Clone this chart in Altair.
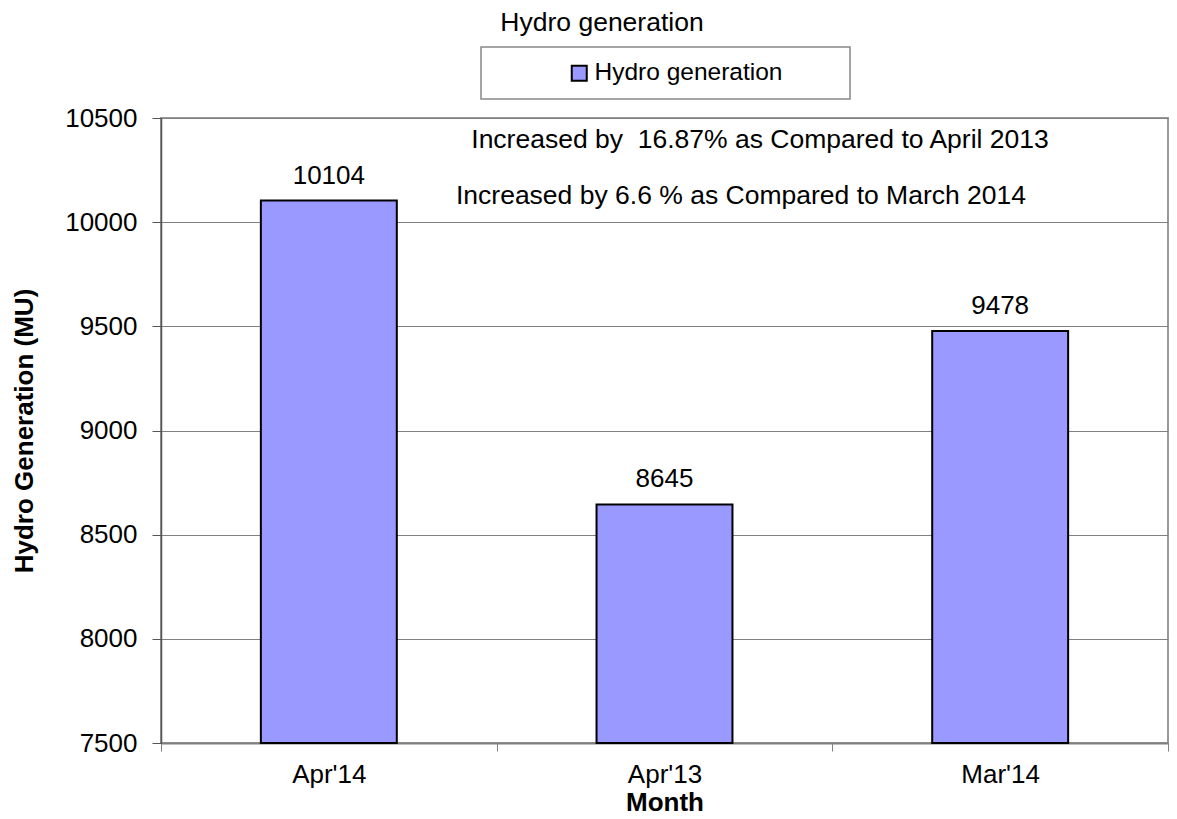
import altair as alt
import pandas as pd

months = ["Apr'14", "Apr'13", "Mar'14"]
values = [10104, 8645, 9478]
series_name = "Hydro generation"
chart_title = "Hydro generation"
note_1 = "Increased by \u00a016.87% as Compared to April 2013"
note_2 = "Increased by 6.6 % as Compared to March 2014"
y_ticks = [7500, 8000, 8500, 9000, 9500, 10000, 10500]
y_min, y_max = 7500, 10500

FONT = "Liberation Sans"
FS = 26
FS_NOTE = 26.5

df = pd.DataFrame({"month": months, "value": values, "series": [series_name] * len(months)})
one = pd.DataFrame({"k": [0]})

x_enc = alt.X(
    "month:N",
    sort=months,
    scale=alt.Scale(paddingInner=0, paddingOuter=0),
    axis=alt.Axis(
        title="Month", labelAngle=0, tickBand="extent", tickSize=8,
        tickColor="#808080", domainColor="#808080", domainWidth=2,
        labelFontSize=FS, labelFont=FONT, labelColor="black", labelPadding=10,
        titleFontSize=FS, titleFont=FONT, titleFontWeight="bold", titleColor="black",
        titlePadding=2,
    ),
)
y_enc = alt.Y(
    "value:Q",
    scale=alt.Scale(domain=[y_min, y_max], nice=False, zero=False),
    axis=alt.Axis(
        title="Hydro Generation (MU)", values=y_ticks, format="d", tickSize=9,
        tickColor="#555555", domainColor="#555555", domainWidth=1.5,
        gridColor="#808080", gridWidth=1,
        labelFontSize=FS, labelFont=FONT, labelColor="black", labelPadding=15,
        titleFontSize=FS, titleFont=FONT, titleFontWeight="bold", titleColor="black",
        titlePadding=27,
    ),
)

base = alt.Chart(df)

bars = base.mark_bar(stroke="black", strokeWidth=2, width={"band": 0.405}).encode(
    x=x_enc,
    y=y_enc,
    y2=alt.datum(y_min),
    color=alt.Color(
        "series:N",
        scale=alt.Scale(domain=[series_name], range=["#9999FF"]),
        legend=alt.Legend(
            title=None, orient="none", legendX=406, legendY=-57, padding=0,
            symbolType="square", symbolSize=225, symbolStrokeColor="black",
            symbolStrokeWidth=2, labelFontSize=24.5, labelFont=FONT, labelColor="black",
            labelOffset=3, labelLimit=400,
        ),
    ),
)

labels = base.mark_text(dy=-17, baseline="alphabetic", fontSize=FS, font=FONT, color="black").encode(
    x=alt.X("month:N", sort=months),
    y="value:Q",
    text=alt.Text("value:Q", format="d"),
)

legend_box = alt.Chart(one).mark_rect(fill="white", stroke="#888888", strokeWidth=1.5).encode(
    x=alt.value(320), x2=alt.value(689), y=alt.value(-71), y2=alt.value(-19)
)

title_txt = alt.Chart(one).mark_text(align="center", baseline="alphabetic", fontSize=FS_NOTE, font=FONT, color="black").encode(
    x=alt.value(441), y=alt.value(-87), text=alt.value(chart_title)
)

note1 = alt.Chart(one).mark_text(align="center", baseline="alphabetic", fontSize=FS_NOTE, font=FONT, color="black").encode(
    x=alt.value(599), y=alt.value(30), text=alt.value(note_1)
)
note2 = alt.Chart(one).mark_text(align="center", baseline="alphabetic", fontSize=FS_NOTE, font=FONT, color="black").encode(
    x=alt.value(580), y=alt.value(86), text=alt.value(note_2)
)

chart = alt.layer(legend_box, bars, labels, title_txt, note1, note2).properties(
    width=1007,
    height=625,
    autosize=alt.AutoSizeParams(type="none"),
    padding={"left": 153, "top": 110, "right": 1, "bottom": 73},
).configure_view(stroke="#999999", strokeWidth=2)

chart.save("out.html", embed_options={"renderer": "svg", "actions": False})
